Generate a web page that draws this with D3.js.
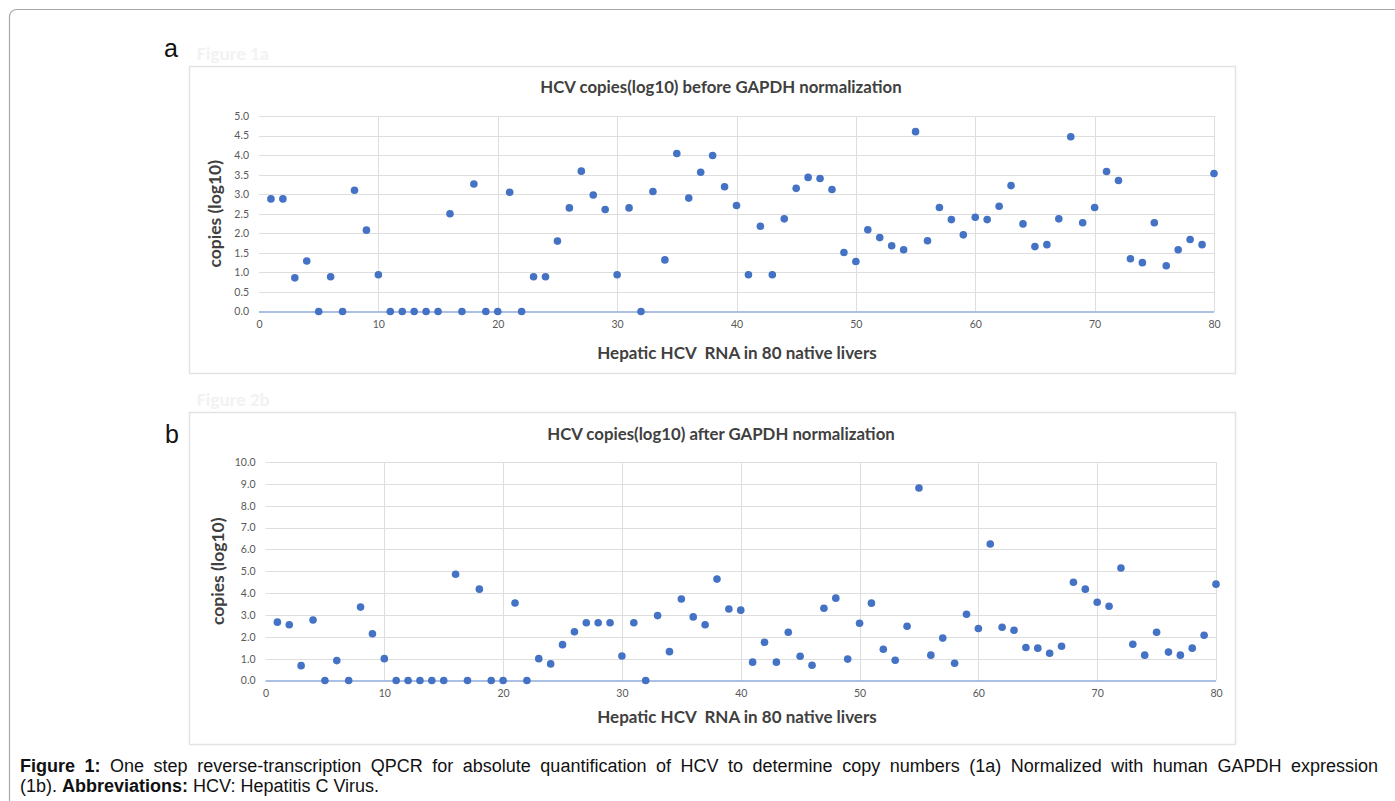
<!DOCTYPE html>
<html>
<head>
<meta charset="utf-8">
<script src="https://cdn.jsdelivr.net/npm/d3@7"></script>
<style>
  body { margin: 0; background: #fff; }
  #wrap { position: relative; width: 1395px; height: 801px; overflow: hidden; }
  #caption {
    position: absolute; left: 20px; top: 757px; width: 1358px;
    font-family: "Liberation Sans", Arial, sans-serif; font-size: 18px;
    line-height: 19.5px; color: #111;
  }
  #caption .l1 { text-align: justify; text-align-last: justify; white-space: nowrap; }
</style>
</head>
<body>
<div id="wrap">
  <svg id="fig" width="1395" height="801"></svg>
  <div id="caption">
    <div class="l1"><b>Figure 1:</b> One step reverse-transcription QPCR for absolute quantification of HCV to determine copy numbers (1a) Normalized with human GAPDH expression</div>
    <div>(1b). <b>Abbreviations:</b> HCV: Hepatitis C Virus.</div>
  </div>
</div>
<script>
// liver index 1..80
const livers = d3.range(1, 81);

// HCV copies (log10) before GAPDH normalization
const beforeNorm = [
  2.88, 2.88, 0.86, 1.29, 0, 0.89, 0, 3.10, 2.08, 0.94,
  0, 0, 0, 0, 0, 2.50, 0, 3.26, 0, 0,
  3.05, 0, 0.89, 0.89, 1.80, 2.65, 3.59, 2.98, 2.61, 0.94,
  2.65, 0, 3.07, 1.32, 4.04, 2.90, 3.56, 3.99, 3.19, 2.71,
  0.94, 2.18, 0.94, 2.37, 3.15, 3.43, 3.40, 3.12, 1.51, 1.28,
  2.09, 1.89, 1.68, 1.58, 4.60, 1.81, 2.66, 2.35, 1.96, 2.41,
  2.35, 2.69, 3.22, 2.24, 1.66, 1.71, 2.37, 4.47, 2.27, 2.66,
  3.58, 3.35, 1.35, 1.25, 2.27, 1.17, 1.58, 1.84, 1.71, 3.53
];

// HCV copies (log10) after GAPDH normalization
const afterNorm = [
  2.67, 2.55, 0.68, 2.77, 0, 0.91, 0, 3.36, 2.14, 1.00,
  0, 0, 0, 0, 0, 4.86, 0, 4.18, 0, 0,
  3.55, 0, 1.00, 0.76, 1.64, 2.23, 2.64, 2.64, 2.64, 1.12,
  2.64, 0, 2.97, 1.32, 3.73, 2.91, 2.55, 4.64, 3.27, 3.22,
  0.84, 1.75, 0.84, 2.21, 1.11, 0.70, 3.31, 3.77, 0.98, 2.62,
  3.54, 1.43, 0.93, 2.48, 8.81, 1.16, 1.94, 0.79, 3.03, 2.38,
  6.25, 2.44, 2.30, 1.51, 1.48, 1.25, 1.57, 4.50, 4.18, 3.58,
  3.40, 5.15, 1.66, 1.16, 2.21, 1.30, 1.16, 1.48, 2.07, 4.41
];

const xTicks = [0, 10, 20, 30, 40, 50, 60, 70, 80];
const yTicksA = d3.range(0, 5.01, 0.5);
const yTicksB = d3.range(0, 10.01, 1);

const svg = d3.select("#fig");

// outer page frame
svg.append("rect")
  .attr("x", 9.5).attr("y", 9.5)
  .attr("width", 1420).attr("height", 820)
  .attr("rx", 7)
  .attr("fill", "none").attr("stroke", "#a9a9a9").attr("stroke-width", 1.2);

function drawPanel(opt) {
  const g = svg.append("g");

  // chart box
  g.append("rect")
    .attr("x", opt.box[0] + 0.5).attr("y", opt.box[1] + 0.5)
    .attr("width", opt.box[2]).attr("height", opt.box[3])
    .attr("fill", "#fff").attr("stroke", "#e3e3e3").attr("stroke-width", 1.5);

  // faint ghost label
  g.append("text")
    .attr("x", opt.box[0] + 8).attr("y", opt.box[1] - 6)
    .attr("font-family", "Calibri, Lato, sans-serif").attr("font-weight", "bold")
    .attr("font-size", 19).attr("fill", "#f2f2f2")
    .text(opt.ghost);

  // panel letter
  g.append("text")
    .attr("x", opt.letterPos[0]).attr("y", opt.letterPos[1])
    .attr("font-family", "Liberation Sans, Arial, sans-serif")
    .attr("font-size", 25).attr("fill", "#111")
    .text(opt.letter);

  const x = d3.scaleLinear().domain([0, 80]).range(opt.xRange);
  const y = d3.scaleLinear().domain([0, opt.yMax]).range(opt.yRange);

  // gridlines
  g.append("g").selectAll("line").data(opt.yTicks.filter(d => d > 0)).join("line")
    .attr("x1", x(0)).attr("x2", x(80))
    .attr("y1", d => Math.round(y(d)) + 0.5).attr("y2", d => Math.round(y(d)) + 0.5)
    .attr("stroke", "#dedede").attr("stroke-width", 1);
  g.append("g").selectAll("line").data(xTicks.filter(d => d > 0)).join("line")
    .attr("x1", d => Math.round(x(d)) + 0.5).attr("x2", d => Math.round(x(d)) + 0.5)
    .attr("y1", y(0)).attr("y2", y(opt.yMax))
    .attr("stroke", "#dedede").attr("stroke-width", 1);

  // axes
  const yAxis = g.append("g")
    .attr("transform", `translate(${x(0)},0)`)
    .call(d3.axisLeft(y).tickValues(opt.yTicks).tickFormat(d3.format(".1f")).tickSize(0).tickPadding(10));
  const xAxis = g.append("g")
    .attr("transform", `translate(0,${y(0)})`)
    .call(d3.axisBottom(x).tickValues(xTicks).tickSize(0).tickPadding(9));
  [xAxis, yAxis].forEach(a => {
    a.select(".domain").remove();
    a.selectAll("text")
      .attr("font-family", "Lato, sans-serif")
      .attr("font-size", 10.5).attr("fill", "#595959");
  });
  g.append("line")
    .attr("x1", x(0)).attr("x2", x(80))
    .attr("y1", y(0) + 0.5).attr("y2", y(0) + 0.5)
    .attr("stroke", "#8faadc").attr("stroke-width", 1.5);

  // points
  g.append("g").selectAll("circle")
    .data(livers.map((n, i) => ({ n, v: opt.values[i] })))
    .join("circle")
    .attr("cx", d => x(d.n))
    .attr("cy", d => y(d.v))
    .attr("r", 3.8)
    .attr("fill", "#4472c4");

  // titles
  g.append("text")
    .attr("x", 721).attr("y", opt.titleY)
    .attr("text-anchor", "middle")
    .attr("font-family", "Lato, sans-serif").attr("font-weight", "bold")
    .attr("font-size", 16.8).attr("fill", "#404040")
    .text(opt.title);
  g.append("text")
    .attr("x", 737).attr("y", opt.xLabelY)
    .attr("text-anchor", "middle")
    .attr("font-family", "Lato, sans-serif").attr("font-weight", "bold")
    .attr("font-size", 17).attr("fill", "#404040")
    .attr("xml:space", "preserve")
    .text("Hepatic HCV  RNA in 80 native livers");
  g.append("text")
    .attr("transform", `translate(${opt.yLabelX},${(opt.yRange[0] + opt.yRange[1]) / 2}) rotate(-90)`)
    .attr("text-anchor", "middle")
    .attr("font-family", "Lato, sans-serif").attr("font-weight", "bold")
    .attr("font-size", 17.5).attr("fill", "#404040")
    .text("copies (log10)");
}

drawPanel({
  box: [189, 66, 1046, 307],
  ghost: "Figure 1a",
  letter: "a",
  letterPos: [164, 57],
  xRange: [259, 1214],
  yRange: [311.5, 116],
  yMax: 5,
  yTicks: yTicksA,
  values: beforeNorm,
  title: "HCV copies(log10) before GAPDH normalization",
  titleY: 93,
  xLabelY: 359,
  yLabelX: 221
});

drawPanel({
  box: [189, 412, 1046, 332],
  ghost: "Figure 2b",
  letter: "b",
  letterPos: [165, 443],
  xRange: [265.5, 1216],
  yRange: [680.5, 462],
  yMax: 10,
  yTicks: yTicksB,
  values: afterNorm,
  title: "HCV copies(log10) after GAPDH normalization",
  titleY: 440,
  xLabelY: 723,
  yLabelX: 224
});
</script>
</body>
</html>
